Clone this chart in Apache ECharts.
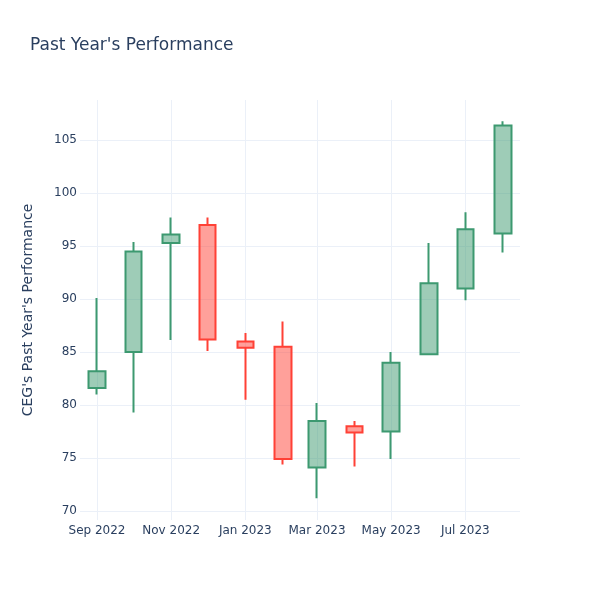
<!DOCTYPE html>
<html>
<head>
<meta charset="utf-8">
<script src="https://cdn.jsdelivr.net/npm/echarts@6/dist/echarts.min.js"></script>
<style>html,body{margin:0;padding:0;background:#fff}#c{width:600px;height:600px}</style>
</head>
<body>
<div id="c"></div>
<script>
const months = ['2022-09-01','2022-10-01','2022-11-01','2022-12-01','2023-01-01','2023-02-01','2023-03-01','2023-04-01','2023-05-01','2023-06-01','2023-07-01','2023-08-01'];
const openV  = [81.6, 85.0, 95.3, 97.0, 86.0, 85.5, 74.1, 78.0, 77.5, 84.8, 91.0, 96.2];
const closeV = [83.2, 94.5, 96.1, 86.2, 85.4, 74.9, 78.5, 77.4, 84.0, 91.5, 96.6, 106.4];
const lowV   = [81.0, 79.3, 86.15, 85.1, 80.5, 74.4, 71.2, 74.2, 74.9, 84.8, 89.9, 94.4];
const highV  = [90.1, 95.4, 97.7, 97.7, 86.8, 87.9, 80.2, 78.5, 85.0, 95.3, 98.2, 106.8];
const xTickDates = ['2022-09-01','2022-11-01','2023-01-01','2023-03-01','2023-05-01','2023-07-01'];
const xTickLabels = ['Sep 2022','Nov 2022','Jan 2023','Mar 2023','May 2023','Jul 2023'];
const yTicks = [70,75,80,85,90,95,100,105];

function ts(s){ const p=s.split('-').map(Number); return Date.UTC(p[0],p[1]-1,p[2]); }
const tickTs = xTickDates.map(ts);
const data = months.map((m,i)=>[ts(m), openV[i], closeV[i], lowV[i], highV[i]]);

const font = 'DejaVu Sans';
const txt = '#2a3f5f';
const chart = echarts.init(document.getElementById('c'));
chart.setOption({
  animation:false,
  textStyle:{fontFamily:font},
  title:{text:"Past Year's Performance", left:30, top:37, padding:0,
    textStyle:{fontFamily:font, fontSize:17, fontWeight:'normal', color:txt}},
  grid:{left:80, right:80, top:100, bottom:80},
  xAxis:{type:'value', min:ts('2022-08-18'), max:ts('2023-08-15'), scale:true,
    axisLine:{show:false},
    axisTick:{show:false, customValues:tickTs},
    axisLabel:{customValues:tickTs, color:txt, fontSize:12, fontFamily:font, margin:5,
      formatter:function(v){ const i=tickTs.indexOf(v); return i>=0?xTickLabels[i]:''; }},
    splitLine:{show:true, lineStyle:{color:'#EBF0F8', width:1}}
  },
  yAxis:{type:'value', min:69.15, max:108.8, scale:true,
    name:"CEG's Past Year's Performance", nameLocation:'middle', nameGap:45,
    nameTextStyle:{color:txt, fontSize:14, fontFamily:font},
    axisLine:{show:false},
    axisTick:{show:false, customValues:yTicks},
    axisLabel:{color:txt, fontSize:12, fontFamily:font, margin:3, customValues:yTicks},
    splitLine:{show:true, lineStyle:{color:'#EBF0F8', width:1}}
  },
  series:[{type:'candlestick', data:data, barWidth:17,
    itemStyle:{color:'rgba(61,153,112,0.5)', color0:'rgba(255,65,54,0.5)',
      borderColor:'#3D9970', borderColor0:'#FF4136', borderWidth:2}}]
});
</script>
</body>
</html>
